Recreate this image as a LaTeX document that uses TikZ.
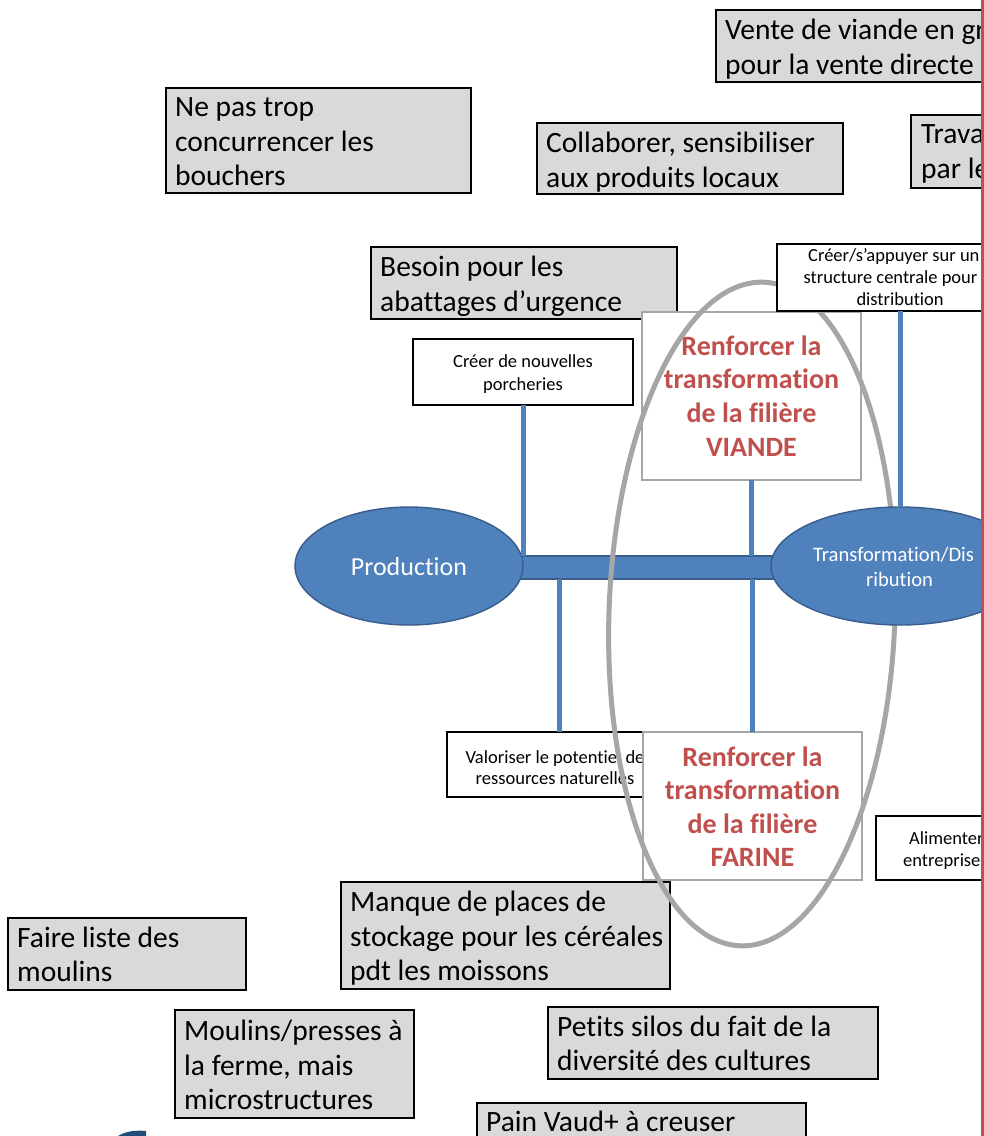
\documentclass[tikz,border=0pt]{standalone}
\usepackage{fontspec}
\setmainfont{Carlito}[Ligatures=NoCommon]
\usetikzlibrary{shapes.geometric}

\definecolor{boxgrey}{HTML}{D9D9D9}
\definecolor{linkblue}{HTML}{4F81BD}
\definecolor{edgeblue}{HTML}{385D8A}
\definecolor{accentred}{HTML}{C0504D}
\definecolor{ringgrey}{HTML}{A6A6A6}
\definecolor{logoblue}{HTML}{1F4E79}

% lines of text with a fixed baseline distance; the node baseline is the first line
\newcommand\stackleft[2]{\vtop{\baselineskip=#1\lineskiplimit=-\maxdimen\halign{##\hfil\cr#2\crcr}}}
\newcommand\stackmid[2]{\vtop{\baselineskip=#1\lineskiplimit=-\maxdimen\halign{\hfil##\hfil\cr#2\crcr}}}
% rectangle node given by its top-left and bottom-right corners
\newcommand\boxnode[6]{\node[#1, anchor=north west, minimum width={#5pt-#3pt}, minimum height={#6pt-#4pt}] (#2) at (#3,#4) {};}

\tikzset{
  panel/.style={rectangle, draw=black, line width=1.4pt, fill=boxgrey, inner sep=0pt, outer sep=0pt},
  note/.style={rectangle, draw=black, line width=1.4pt, fill=white, inner sep=0pt, outer sep=0pt},
  headframe/.style={rectangle, draw=ringgrey, line width=1.4pt, fill=white, inner sep=0pt, outer sep=0pt},
  barbox/.style={rectangle, draw=edgeblue, line width=1.4pt, fill=linkblue, inner sep=0pt, outer sep=0pt},
  blob/.style={ellipse, draw=edgeblue, line width=1.4pt, fill=linkblue, inner sep=0pt, outer sep=0pt},
  ring/.style={ellipse, draw=ringgrey, line width=5pt, inner sep=0pt, outer sep=0pt},
  link/.style={draw=linkblue, line width=5pt},
  bigtxt/.style={inner sep=0pt, font=\fontsize{29.5pt}{34.5pt}\selectfont},
  smalltxt/.style={inner sep=0pt, font=\fontsize{18.5pt}{22pt}\selectfont},
  headtxt/.style={inner sep=0pt, text=accentred, font=\bfseries\fontsize{28pt}{34pt}\selectfont},
  blobtxt/.style={inner sep=0pt, text=white},
}

\begin{document}
\begin{tikzpicture}[x=1pt, y=-1pt]
\useasboundingbox (0,0) rectangle (984,1136);
\fill[white] (0,0) rectangle (984,1136);

\begin{scope}
\clip (0,0) rectangle (981,1136);

% grey note panels
\boxnode{panel}{vente}{716}{10}{1000}{82}
\node[bigtxt, anchor=base west] (vente-t) at (725,39.5) {\stackleft{34.5pt}{Vente de viande en gr\cr pour la vente directe}};

\boxnode{panel}{nepas}{166}{88}{471}{193}
\node[bigtxt, anchor=base west] (nepas-t) at (175,116.5) {\stackleft{34.5pt}{Ne pas trop\cr concurrencer les\cr bouchers}};

\boxnode{panel}{collab}{537}{123}{843}{194}
\node[bigtxt, anchor=base west] (collab-t) at (546,152.5) {\stackleft{34.5pt}{Collaborer, sensibiliser\cr aux produits locaux}};

\boxnode{panel}{trava}{911}{115}{1000}{188}
\node[bigtxt, anchor=base west] (trava-t) at (921,143.5) {\stackleft{34.5pt}{Trava\cr par le}};

\boxnode{panel}{besoin}{371}{247}{677}{319}
\node[bigtxt, anchor=base west] (besoin-t) at (380,276.5) {\stackleft{34.5pt}{Besoin pour les\cr abattages d’urgence}};

\boxnode{panel}{manque}{341}{882}{670}{989}
\node[bigtxt, anchor=base west] (manque-t) at (350,911.5) {\stackleft{34.5pt}{Manque de places de\cr stockage pour les céréales\cr pdt les moissons}};

\boxnode{panel}{faire}{8}{918}{246}{990}
\node[bigtxt, anchor=base west] (faire-t) at (17,947) {\stackleft{34.5pt}{Faire liste des\cr moulins}};

\boxnode{panel}{moulins}{175}{1010}{414}{1118}
\node[bigtxt, anchor=base west] (moulins-t) at (184,1040.5) {\stackleft{34.5pt}{Moulins/presses à\cr la ferme, mais\cr microstructures}};

\boxnode{panel}{petits}{548}{1007}{878}{1079}
\node[bigtxt, anchor=base west] (petits-t) at (557,1036) {\stackleft{34.5pt}{Petits silos du fait de la\cr diversité des cultures}};

\boxnode{panel}{pain}{477}{1103}{806}{1150}
\node[bigtxt, anchor=base west] (pain-t) at (486,1131) {Pain Vaud+ à creuser};

% production side
\boxnode{note}{porch}{413}{339}{633}{405}
\node[smalltxt, anchor=base] (porch-t) at (523,367.7) {\stackmid{22.3pt}{Créer de nouvelles\cr porcheries}};

\boxnode{barbox}{bar}{515}{556}{785}{579}
\node[blob, minimum width=228pt, minimum height=118pt] (prod) at (409,566) {};
\node[blobtxt, font=\fontsize{26pt}{30pt}\selectfont, anchor=base] (prod-t) at (409,575) {Production};

\draw[link] (porch.south) -- (porch.south |- bar.north);

% lower actions
\boxnode{note}{valor}{447}{732}{671}{797}
\node[smalltxt, anchor=base] (valor-t) at (555,763) {\stackmid{21.5pt}{Valoriser le potentiel de\cr ressources naturelles}};
\draw[link] (valor.north |- bar.south) -- (valor.north);

\boxnode{headframe}{farine}{643}{732}{862}{880}
\node[headtxt, anchor=base] (farine-t) at (752.5,766) {\stackmid{33.5pt}{Renforcer la\cr transformation\cr de la filière\cr FARINE}};
\draw[link] (farine.north |- bar.south) -- (farine.north);

\boxnode{headframe}{viande}{642}{312}{861}{480}
\node[headtxt, anchor=base] (viande-t) at (751.5,355) {\stackmid{33.7pt}{Renforcer la\cr transformation\cr de la filière\cr VIANDE}};
\draw[link] (viande.south) -- (viande.south |- bar.north);

% focus ring round the two processing themes
\node[ring, rotate=-2, minimum width=286pt, minimum height=664pt] (focus) at (752,614) {};

% distribution side
\boxnode{note}{struct}{777}{244}{1023}{311}
\node[smalltxt, anchor=base west] (struct-t) at (803.5,261.7) {\stackleft{22pt}{\hskip4.5pt Créer/s’appuyer sur un\cr structure centrale pour\cr \hskip52.8pt distribution}};

\node[blob, minimum width=258pt, minimum height=118pt] (transf) at (900,566) {};
\node[blobtxt, font=\fontsize{20.6pt}{25pt}\selectfont, anchor=base west] (transf-t) at (813,561.7) {\stackleft{25pt}{Transformation/Dis\cr \hskip52.9pt ribution}};
\draw[link] (struct.south) -- (struct.south |- transf.north);

\boxnode{note}{alim}{876}{816}{1000}{880}
\node[smalltxt, anchor=base west] (alim-t) at (903,844) {\stackleft{22pt}{\hskip6pt Alimenter\cr entreprises}};

% corner of the logo
\fill[logoblue] (118,1136) .. controls (126,1131) and (136,1130) .. (146,1131) -- (146,1136) -- cycle;
\end{scope}

% red margin rule
\fill[accentred] (981,0) rectangle (984,1136);
\end{tikzpicture}
\end{document}
